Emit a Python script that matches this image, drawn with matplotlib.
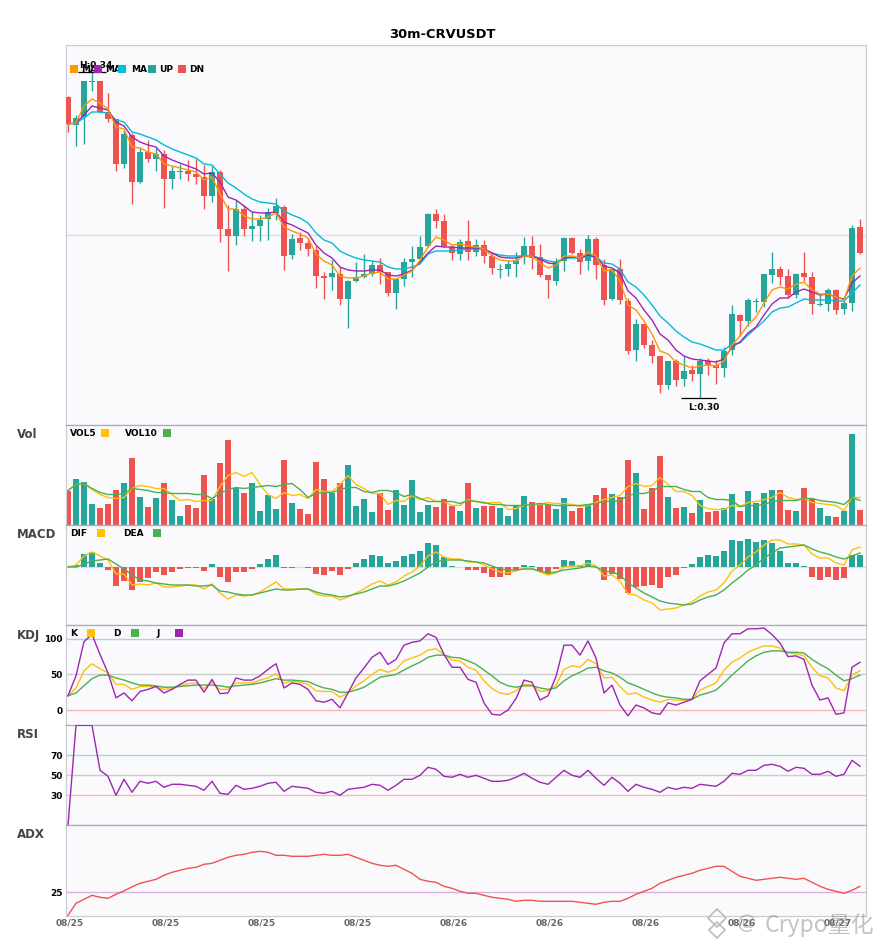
import matplotlib
matplotlib.use('Agg')
import numpy as np
import matplotlib.pyplot as plt
from matplotlib.lines import Line2D
from matplotlib.patches import Rectangle
from matplotlib.transforms import ScaledTranslation

# Settings
W, H = 885, 950
LEFT, RIGHT = 65.5, 865.5
BG = '#FAFAFD'
C_UP = '#26A69A'
C_DN = '#EF5350'
C_MA5 = '#FF9800'
C_MA10 = '#9C27B0'
C_MA20 = '#00BCD4'
C_YEL = '#FFC107'
C_GRN = '#4CAF50'

TITLE = '30m-CRVUSDT'
XTICK_IDX = [0, 12, 24, 36, 48, 60, 72, 84, 96]
XTICK_LABELS = ['08/25', '08/25', '08/25', '08/25', '08/26', '08/26', '08/26', '08/26', '08/27']

# Candles
OPEN = [.3338, .3310, .3318, .3353, .3354, .3323, .3316, .3271, .3300, .3253,
        .3283, .3276, .3281, .3256, .3263, .3264, .3261, .3258, .3239, .3263,
        .3206, .3199, .3226, .3206, .3209, .3216, .3222, .3228, .3180, .3197,
        .3192, .3185, .3159, .3158, .3161, .3136, .3154, .3158, .3161, .3170,
        .3163, .3142, .3156, .3173, .3176, .3189, .3221, .3214, .3188, .3181,
        .3194, .3183, .3190, .3179, .3165, .3166, .3171, .3179, .3189, .3178,
        .3160, .3154, .3174, .3197, .3182, .3174, .3196, .3170, .3136, .3166,
        .3134, .3085, .3111, .3090, .3079, .3050, .3074, .3056, .3065, .3061,
        .3074, .3070, .3067, .3085, .3120, .3114, .3133, .3133, .3160, .3166,
        .3159, .3140, .3162, .3158, .3130, .3131, .3145, .3126, .3132, .3208]
CLOSE = [.3311, .3317, .3354, .3354, .3323, .3316, .3271, .3301, .3253, .3283,
         .3276, .3281, .3256, .3264, .3264, .3261, .3258, .3239, .3263, .3206,
         .3199, .3226, .3206, .3209, .3215, .3223, .3229, .3179, .3196, .3192,
         .3186, .3159, .3157, .3162, .3136, .3154, .3158, .3161, .3170, .3163,
         .3142, .3156, .3173, .3176, .3188, .3221, .3214, .3189, .3182, .3193,
         .3183, .3190, .3179, .3167, .3166, .3171, .3175, .3189, .3177, .3160,
         .3155, .3173, .3197, .3182, .3173, .3196, .3170, .3135, .3166, .3135,
         .3084, .3111, .3090, .3079, .3050, .3074, .3055, .3064, .3061, .3074,
         .3070, .3067, .3084, .3121, .3114, .3135, .3134, .3161, .3166, .3158,
         .3140, .3161, .3158, .3131, .3131, .3145, .3125, .3132, .3207, .3182]
HIGH = [.3339, .3320, .3354, .3363, .3354, .3342, .3316, .3305, .3302, .3288,
        .3295, .3287, .3285, .3269, .3271, .3275, .3276, .3270, .3270, .3265,
        .3230, .3235, .3230, .3224, .3220, .3227, .3237, .3230, .3201, .3203,
        .3197, .3189, .3163, .3175, .3168, .3155, .3173, .3181, .3174, .3177,
        .3163, .3156, .3177, .3189, .3199, .3222, .3226, .3221, .3190, .3196,
        .3215, .3196, .3195, .3182, .3171, .3175, .3183, .3198, .3199, .3191,
        .3160, .3177, .3198, .3198, .3186, .3200, .3198, .3176, .3166, .3176,
        .3137, .3116, .3111, .3095, .3079, .3074, .3076, .3079, .3070, .3077,
        .3077, .3075, .3088, .3130, .3121, .3137, .3137, .3161, .3183, .3169,
        .3166, .3162, .3183, .3163, .3140, .3147, .3146, .3135, .3210, .3216]
LOW = [.3303, .3289, .3291, .3344, .3322, .3313, .3264, .3267, .3231, .3252,
       .3273, .3264, .3227, .3246, .3256, .3254, .3251, .3226, .3233, .3193,
       .3164, .3190, .3199, .3194, .3194, .3195, .3215, .3165, .3176, .3185,
       .3179, .3147, .3136, .3145, .3130, .3107, .3153, .3157, .3159, .3151,
       .3139, .3126, .3149, .3158, .3176, .3188, .3207, .3188, .3175, .3175,
       .3175, .3179, .3172, .3161, .3157, .3159, .3158, .3171, .3166, .3158,
       .3137, .3150, .3164, .3181, .3161, .3165, .3156, .3130, .3135, .3131,
       .3081, .3074, .3087, .3072, .3042, .3046, .3049, .3049, .3054, .3037,
       .3060, .3051, .3058, .3080, .3099, .3109, .3123, .3128, .3152, .3150,
       .3137, .3137, .3154, .3121, .3129, .3124, .3121, .3121, .3124, .3181]

# Moving averages
MA5 = [.3311, .3312, .3329, .3336, .3332, .3326, .3308, .3306, .3288, .3287,
       .3283, .3281, .3271, .3269, .3267, .3265, .3263, .3255, .3258, .3241,
       .3226, .3226, .3219, .3216, .3216, .3218, .3222, .3208, .3204, .3201,
       .3197, .3181, .3174, .3170, .3159, .3157, .3157, .3159, .3162, .3163,
       .3156, .3156, .3160, .3164, .3175, .3188, .3198, .3195, .3190, .3191,
       .3189, .3188, .3186, .3179, .3175, .3174, .3174, .3179, .3179, .3172,
       .3167, .3170, .3179, .3179, .3177, .3183, .3179, .3164, .3165, .3154,
       .3130, .3125, .3114, .3101, .3084, .3081, .3073, .3070, .3067, .3069,
       .3070, .3069, .3074, .3090, .3099, .3110, .3118, .3132, .3145, .3148,
       .3146, .3151, .3153, .3145, .3141, .3141, .3138, .3135, .3159, .3167]
MA10 = [.3311, .3312, .3320, .3329, .3327, .3325, .3313, .3309, .3298, .3293,
        .3290, .3288, .3279, .3275, .3272, .3269, .3266, .3261, .3262, .3253,
        .3238, .3235, .3229, .3223, .3222, .3222, .3223, .3213, .3210, .3206,
        .3202, .3190, .3182, .3177, .3168, .3165, .3164, .3164, .3165, .3165,
        .3160, .3159, .3161, .3165, .3173, .3182, .3189, .3188, .3188, .3187,
        .3187, .3187, .3186, .3182, .3178, .3177, .3177, .3179, .3179, .3176,
        .3172, .3171, .3177, .3178, .3177, .3180, .3178, .3169, .3167, .3162,
        .3144, .3137, .3125, .3115, .3101, .3095, .3085, .3079, .3076, .3075,
        .3074, .3073, .3076, .3088, .3093, .3102, .3108, .3120, .3131, .3137,
        .3137, .3143, .3146, .3143, .3140, .3141, .3138, .3136, .3152, .3159]
MA20 = [.3311, .3312, .3317, .3323, .3323, .3322, .3315, .3313, .3303, .3301,
        .3298, .3295, .3290, .3286, .3283, .3280, .3277, .3271, .3270, .3261,
        .3252, .3247, .3241, .3236, .3233, .3232, .3231, .3224, .3220, .3217,
        .3212, .3202, .3195, .3192, .3184, .3180, .3177, .3175, .3174, .3173,
        .3168, .3166, .3166, .3168, .3171, .3181, .3184, .3184, .3184, .3185,
        .3186, .3186, .3186, .3182, .3180, .3179, .3179, .3179, .3179, .3177,
        .3174, .3173, .3177, .3177, .3177, .3179, .3178, .3172, .3171, .3166,
        .3153, .3148, .3140, .3130, .3119, .3112, .3104, .3098, .3093, .3091,
        .3088, .3085, .3085, .3091, .3092, .3100, .3107, .3114, .3123, .3127,
        .3128, .3132, .3136, .3135, .3135, .3135, .3134, .3134, .3142, .3150]

# Volume (arbitrary units)
VOL = [34, 46, 43, 21, 17, 21, 35, 42, 67, 28, 18, 27, 42, 25, 9, 20, 17, 50, 26, 62,
       85, 37, 32, 42, 14, 30, 16, 65, 22, 16, 11, 63, 46, 32, 42, 60, 19, 26, 13, 32,
       15, 35, 20, 45, 13, 20, 18, 26, 19, 14, 42, 17, 19, 19, 17, 9, 20, 29, 23, 21,
       20, 16, 27, 14, 17, 20, 30, 37, 31, 28, 65, 52, 16, 37, 69, 28, 17, 18, 12, 25,
       13, 14, 17, 31, 14, 34, 22, 32, 35, 35, 15, 14, 37, 26, 17, 9, 8, 14, 91, 15]
VOL5 = [34, 40, 41, 35, 30, 27, 26, 27, 36, 39, 38, 36, 36, 30, 24, 25, 23, 24, 24, 38,
        49, 52, 48, 52, 40, 30, 26, 32, 29, 30, 26, 35, 33, 33, 40, 49, 40, 36, 31, 31,
        20, 24, 23, 29, 25, 27, 23, 23, 19, 19, 25, 23, 21, 22, 22, 15, 16, 19, 20, 20,
        22, 21, 21, 20, 18, 19, 22, 25, 27, 29, 38, 41, 38, 39, 47, 40, 33, 33, 29, 19,
        16, 15, 15, 19, 18, 22, 23, 25, 27, 32, 27, 25, 26, 22, 21, 20, 19, 14, 27, 27]
VOL10 = [34, 40, 41, 36, 32, 30, 30, 31, 36, 35, 34, 32, 32, 31, 31, 31, 30, 30, 26, 31,
         35, 37, 36, 37, 38, 39, 38, 40, 41, 35, 27, 31, 32, 32, 35, 37, 37, 33, 32, 34,
         34, 32, 28, 30, 26, 23, 23, 23, 23, 21, 24, 23, 22, 20, 20, 19, 19, 19, 20, 21,
         20, 19, 19, 19, 19, 20, 21, 23, 23, 24, 29, 31, 31, 33, 38, 38, 38, 35, 33, 33,
         27, 25, 25, 24, 18, 19, 19, 20, 23, 24, 24, 24, 26, 26, 24, 23, 22, 20, 27, 24]

# MACD (in units of 1e-5)
MACD_HIST = [0, 2, 13, 15, 4, -3, -19, -14, -23, -15, -11, -5, -8, -5, -2, -1, -1, -4, 3, -10,
             -15, -5, -5, -2, 3, 8, 12, -1, -1, 0, -1, -7, -8, -4, -8, -2, 4, 8, 12, 11,
             4, 6, 11, 13, 16, 24, 22, 10, 1, 0, -3, -3, -6, -10, -10, -8, -3, 2, 1, -4,
             -7, -2, 7, 6, 2, 7, 0, -13, -7, -12, -26, -20, -19, -18, -21, -10, -8, -1, 3, 10,
             12, 11, 16, 27, 26, 28, 25, 27, 24, 16, 4, 4, 1, -10, -13, -10, -13, -11, 12, 12]
MACD_DIF = [0, 2, 11, 15, 11, 7, -7, -7, -18, -17, -18, -16, -20, -20, -19, -18, -18, -22, -17, -26,
            -32, -28, -29, -28, -25, -20, -15, -22, -22, -22, -22, -27, -29, -29, -33, -30, -26, -22, -17, -14,
            -18, -15, -9, -5, 1, 11, 15, 10, 8, 8, 5, 5, 2, -2, -5, -6, -4, -1, -1, -5,
            -8, -6, 0, 1, 1, 4, 1, -9, -8, -14, -27, -28, -33, -36, -43, -42, -41, -38, -35, -29,
            -25, -23, -16, -4, 2, 10, 15, 22, 27, 27, 23, 23, 22, 13, 9, 9, 4, 2, 17, 20]
MACD_DEA = [0, 0, 3, 6, 7, 8, 3, -2, -8, -13, -14, -16, -17, -18, -18, -18, -19, -19, -18, -24,
            -25, -27, -28, -28, -26, -24, -22, -23, -23, -22, -22, -25, -27, -28, -30, -29, -27, -25, -22, -19,
            -19, -17, -14, -10, -6, 0, 5, 7, 7, 7, 6, 5, 4, 1, -2, -3, -3, -2, -2, -4,
            -6, -5, -3, -2, -1, 1, 0, -4, -5, -8, -16, -21, -26, -30, -34, -36, -37, -38, -37, -33,
            -30, -28, -23, -16, -10, -3, 2, 9, 14, 19, 20, 21, 22, 18, 15, 13, 10, 8, 11, 14]

# KDJ
KDJ_K = [20, 31, 55, 65, 58, 52, 36, 36, 29, 33, 33, 33, 29, 30, 34, 37, 38, 30, 39, 29,
         29, 38, 38, 38, 42, 45, 51, 38, 40, 39, 36, 27, 26, 26, 18, 24, 34, 41, 50, 57,
         53, 57, 69, 73, 77, 84, 86, 78, 70, 69, 60, 56, 41, 30, 24, 22, 27, 36, 35, 26,
         27, 35, 57, 62, 60, 71, 65, 45, 46, 33, 22, 24, 18, 14, 11, 15, 14, 14, 15, 28,
         33, 38, 56, 67, 73, 81, 86, 90, 90, 87, 80, 79, 76, 60, 48, 45, 31, 27, 49, 55]
KDJ_D = [20, 24, 34, 44, 49, 49, 45, 42, 38, 35, 35, 34, 32, 32, 33, 34, 35, 35, 35, 34,
         32, 34, 35, 36, 38, 41, 44, 42, 42, 41, 40, 35, 31, 29, 25, 25, 28, 32, 39, 46,
         48, 50, 56, 62, 67, 74, 77, 77, 74, 73, 69, 64, 56, 48, 39, 34, 32, 34, 34, 31,
         29, 31, 41, 48, 53, 59, 60, 55, 52, 46, 38, 34, 29, 24, 20, 18, 17, 15, 15, 21,
         24, 28, 38, 49, 59, 69, 76, 81, 83, 83, 81, 81, 80, 71, 64, 58, 49, 41, 44, 49]
KDJ_J = [20, 48, 96, 106, 78, 52, 17, 24, 13, 26, 29, 33, 24, 29, 36, 42, 42, 25, 43, 23,
         24, 45, 42, 42, 48, 57, 65, 31, 38, 36, 29, 13, 11, 15, 3, 24, 45, 59, 74, 81,
         64, 71, 91, 95, 97, 107, 102, 78, 60, 60, 43, 39, 10, -6, -7, 0, 16, 42, 39, 14,
         20, 47, 91, 91, 77, 97, 73, 24, 35, 7, -8, 7, 3, -4, -6, 10, 7, 11, 15, 41,
         50, 59, 94, 107, 107, 114, 114, 115, 106, 94, 75, 76, 71, 35, 14, 17, -6, -4, 60, 67]

# RSI
RSI = [0, 100, 100, 100, 55, 49, 30, 46, 33, 44, 42, 44, 38, 41, 41, 40, 39, 35, 44, 32,
       31, 40, 36, 37, 39, 42, 43, 34, 39, 38, 37, 33, 32, 34, 30, 36, 37, 38, 41, 40,
       35, 40, 46, 46, 50, 58, 56, 49, 48, 51, 48, 50, 47, 44, 44, 45, 48, 52, 47, 43,
       41, 48, 55, 50, 48, 55, 47, 40, 48, 42, 34, 41, 38, 36, 33, 38, 36, 38, 37, 41,
       40, 39, 44, 52, 51, 55, 55, 60, 61, 59, 54, 58, 57, 51, 51, 54, 49, 51, 65, 59]

# ADX
ADX = [13.5, 19.5, 21.5, 23.5, 22.5, 22, 24, 25.7, 27.7, 29.5, 30.5, 31.5, 33.5, 35, 36, 37, 37.5, 39, 39.5, 41,
       42.5, 43.5, 44, 45, 45.5, 45, 43.5, 43.5, 43, 43, 43, 43.5, 44, 43.5, 43.5, 44, 42.5, 41, 39.5, 38.5,
       38, 38.5, 36.5, 34.5, 31.5, 30.5, 30, 28, 27, 25.5, 24.5, 24.5, 23.5, 22.5, 22, 21.5, 20.5, 21, 21, 20.5,
       20.5, 20.5, 20.5, 20.5, 20, 19.5, 19, 20, 20.5, 20.5, 22, 24, 25.5, 27, 29.5, 31, 32.5, 33.5, 34.5, 36,
       37, 38, 38, 35.5, 33, 32, 31, 31.5, 32, 32.5, 32, 31.5, 32, 30, 28, 26.5, 25.5, 24.5, 26, 28]


def add_axes_px(fig, top, bottom):
    """Axes from pixel positions of the reference."""
    ax = fig.add_axes([LEFT / W, 1 - bottom / H, (RIGHT - LEFT) / W, (bottom - top) / H])
    ax.set_facecolor(BG)
    ax.set_xlim((LEFT - 68) / 8, (RIGHT - 68) / 8)
    ax.set_xticks([])
    ax.set_yticks([])
    ax.tick_params(length=0, pad=2, labelsize=6.5)
    for spine in ax.spines.values():
        spine.set_color('#CCCCD4')
        spine.set_linewidth(0.9)
    ax.spines['top'].set_color('#AAAAB0')
    return ax


def fig_text(fig, x, y, s, **kw):
    kw.setdefault('fontsize', 6.5)
    kw.setdefault('fontweight', 'bold')
    kw.setdefault('va', 'center')
    fig.text(x / W, 1 - y / H, s, **kw)


def legend_square(fig, x, y, color):
    fig.add_artist(Rectangle((x / W, 1 - (y + 4) / H), 8 / W, 8 / H,
                             transform=fig.transFigure, color=color, lw=0, zorder=10))


def set_yticks(ax, ticks):
    ax.set_yticks(ticks)
    ax.set_yticklabels([str(t) for t in ticks], fontweight='bold', fontsize=6.5)


fig = plt.figure(figsize=(W / 100, H / 100), dpi=100, facecolor='white')
x = np.arange(len(CLOSE))
colors = [C_UP if c >= o else C_DN for o, c in zip(OPEN, CLOSE)]

# Main panel
ax = add_axes_px(fig, 45, 424.5)
ax.set_ylim(0.30105, 0.3390)
ax.spines['top'].set_color('#CCCCD4')
ax.axhline(0.32, color='#DDDDE2', lw=1, zorder=1)
ax.vlines(x, LOW, HIGH, colors=colors, lw=1, zorder=2)
body_bottom = np.minimum(OPEN, CLOSE)
body_height = np.maximum(np.abs(np.array(CLOSE) - np.array(OPEN)), 0.0001)
ax.bar(x, body_height, bottom=body_bottom, width=0.75, color=colors, zorder=3)
ax.plot(x, MA20, color=C_MA20, lw=1.0, zorder=4)
ax.plot(x, MA10, color=C_MA10, lw=1.0, zorder=4)
ax.plot(x, MA5, color=C_MA5, lw=1.0, zorder=5)

i_hi = int(np.argmax(HIGH))
i_lo = int(np.argmin(LOW))
ax.hlines(HIGH[i_hi], i_hi - 1.8, i_hi + 1.8, color='black', lw=0.9, zorder=6)
ax.hlines(LOW[i_lo], i_lo - 2.4, i_lo + 2.0, color='black', lw=0.9, zorder=6)
ax.annotate(f'H:{HIGH[i_hi]:.2f}', (i_hi, HIGH[i_hi]), xytext=(3, 5), textcoords='offset points',
            ha='center', va='center', fontsize=6.5, fontweight='bold', zorder=7)
ax.annotate(f'L:{LOW[i_lo]:.2f}', (i_lo, LOW[i_lo]), xytext=(3, -6.5), textcoords='offset points',
            ha='center', va='center', fontsize=6.5, fontweight='bold', zorder=7)

# Volume
ax = add_axes_px(fig, 424.5, 524.5)
ax.set_ylim(0, 100)
ax.bar(x, VOL, width=0.75, color=colors, zorder=2)
ax.plot(x, VOL5, color=C_YEL, lw=1.0, zorder=3)
ax.plot(x, VOL10, color=C_GRN, lw=1.0, zorder=3)

# MACD
ax = add_axes_px(fig, 524.5, 624.5)
ax.set_ylim(-57.5, 42.5)
ax.axhline(0, color='#DDDDE2', lw=1, zorder=1)
macd_colors = [C_UP if v > 0 else C_DN for v in MACD_HIST]
ax.bar(x, MACD_HIST, width=0.75, color=macd_colors, zorder=2)
ax.plot(x, MACD_DIF, color=C_YEL, lw=1.0, zorder=3)
ax.plot(x, MACD_DEA, color=C_GRN, lw=1.0, zorder=3)

# KDJ
ax = add_axes_px(fig, 624.5, 724.5)
ax.set_ylim(-20.3, 120)
ax.axhline(100, color=C_UP, alpha=0.4, lw=1, zorder=1)
ax.axhline(50, color='#CCCCCC', lw=1, zorder=1)
ax.axhline(0, color=C_DN, alpha=0.4, lw=1, zorder=1)
ax.plot(x, KDJ_K, color=C_YEL, lw=1.0, zorder=3)
ax.plot(x, KDJ_D, color=C_GRN, lw=1.0, zorder=3)
ax.plot(x, KDJ_J, color=C_MA10, lw=1.0, zorder=4)
set_yticks(ax, [0, 50, 100])

# RSI
ax = add_axes_px(fig, 724.5, 824.5)
ax.set_ylim(0.8, 100.8)
ax.axhline(70, color=C_UP, alpha=0.4, lw=1, zorder=1)
ax.axhline(50, color='#CCCCCC', lw=1, zorder=1)
ax.axhline(30, color=C_DN, alpha=0.4, lw=1, zorder=1)
ax.plot(x, RSI, color=C_MA10, lw=1.0, zorder=3)
set_yticks(ax, [30, 50, 70])

# ADX
ax = add_axes_px(fig, 824.5, 915.5)
ax.set_ylim(13.4, 58.9)
ax.axhline(25, color=C_MA10, alpha=0.35, lw=1, zorder=1)
ax.plot(x, ADX, color=C_DN, lw=1.0, zorder=3)
set_yticks(ax, [25])
ax.set_xticks(XTICK_IDX)
ax.set_xticklabels(XTICK_LABELS, fontsize=6.5, fontweight='bold', color='#666666')
ax.tick_params(axis='x', pad=2.5)
# labels sit slightly right of the bars in the reference
shift = ScaledTranslation(2 / 100, 0, fig.dpi_scale_trans)
for label in ax.get_xticklabels():
    label.set_transform(label.get_transform() + shift)

# Title and panel names
fig_text(fig, 442.5, 34, TITLE, fontsize=9.4, ha='center')
for name, y in zip(['Vol', 'MACD', 'KDJ', 'RSI', 'ADX'], [434.5, 535, 635, 735, 835]):
    fig_text(fig, 17, y, name, fontsize=8.5, color='#444444')

# Hand-built legends
for sx, color, tx, label in [(70, C_MA5, 81, 'MA'), (94, C_MA10, 105, 'MA'), (118, C_MA20, 131, 'MA'),
                             (148, C_UP, 159, 'UP'), (178, C_DN, 189, 'DN')]:
    legend_square(fig, sx, 69, color)
    fig_text(fig, tx, 69, label)
for tx, label, sx, color in [(70, 'VOL5', 101, C_YEL), (125, 'VOL10', 163, C_GRN)]:
    fig_text(fig, tx, 433.5, label)
    legend_square(fig, sx, 433, color)
for tx, label, sx, color in [(70, 'DIF', 97, C_YEL), (123, 'DEA', 153, C_GRN)]:
    fig_text(fig, tx, 534, label)
    legend_square(fig, sx, 533, color)
for tx, label, sx, color in [(70, 'K', 87, C_YEL), (113, 'D', 131, C_GRN), (156, 'J', 175, C_MA10)]:
    fig_text(fig, tx, 633.5, label)
    legend_square(fig, sx, 633, color)

# Watermark
fig_text(fig, 737, 924, '@', fontsize=14, fontweight='normal', color='#888888', alpha=0.5, zorder=20)
fig.text(765 / W, 1 - 925 / H, 'Crypo量化', fontsize=16.5, color='#888888', alpha=0.5, va='center', zorder=20,
         family=['Noto Sans CJK SC', 'DejaVu Sans'])
for mx, my, ms in [(717, 918, 9), (717, 930, 8)]:
    fig.add_artist(Line2D([mx / W], [1 - my / H], marker='D', ms=ms, mfc='none', mec='#BBBBBB',
                          mew=1.2, transform=fig.transFigure, zorder=20))

fig.savefig('out.png', dpi=100, facecolor='white')
